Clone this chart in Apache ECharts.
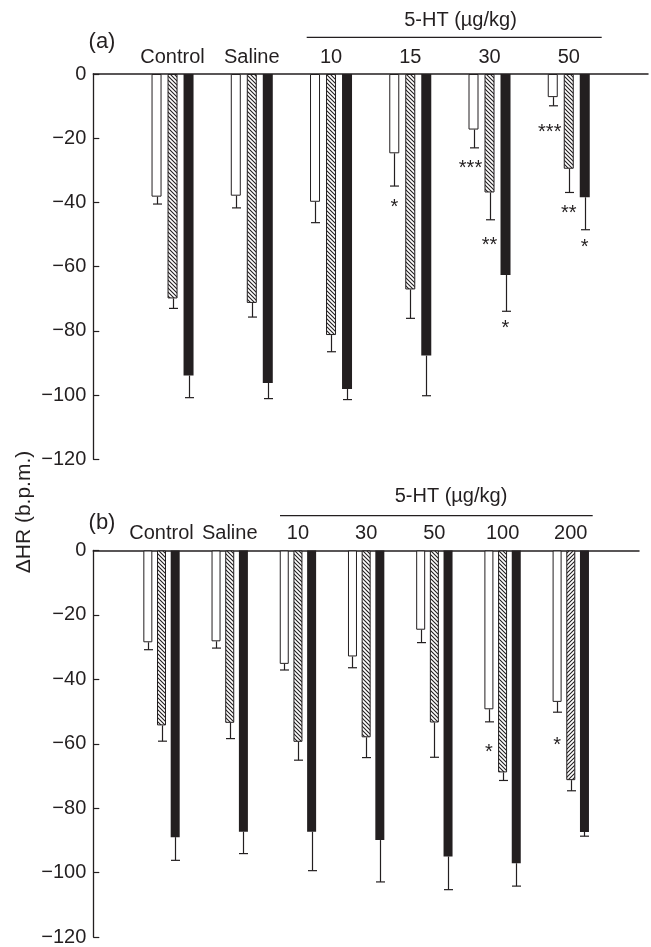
<!DOCTYPE html>
<html><head><meta charset="utf-8">
<script src="https://cdn.jsdelivr.net/npm/echarts@6/dist/echarts.min.js"></script>
<style>html,body{margin:0;padding:0;background:#fff}#c{width:651px;height:947px}</style>
</head><body><div id="c"></div>
<script>
// ---- Panel (a) data ----
const catsA = ['', 'Control', 'Saline', '10', '15', '30', '50', ''];
const whiteA = [-38.2, -37.9, -39.8, -24.7, -17.3, -7.2];
const whiteSemA = [2.3, 3.8, 6.5, 10.2, 5.7, 2.7];
const hatchA = [-69.9, -71.3, -81.3, -67.1, -36.9, -29.5];
const hatchSemA = [3.1, 4.4, 5.2, 9.0, 8.5, 7.4];
const blackA = [-93.9, -96.2, -98.1, -87.7, -62.6, -38.4];
const blackSemA = [6.9, 4.9, 3.3, 12.5, 11.3, 10.1];
// significance marks: [category, bar (0 open,1 hatched,2 filled), value position, text]
const sigA = [['15', 0, -40, '*'], ['30', 0, -28, '***'], ['30', 1, -51.8, '**'], ['30', 2, -77.7, '*'],
              ['50', 0, -16.7, '***'], ['50', 1, -42, '**'], ['50', 2, -52.5, '*']];

// ---- Panel (b) data ----
const catsB = ['', 'Control', 'Saline', '10', '30', '50', '100', '200', ''];
const whiteB = [-28.5, -28.2, -35.2, -32.9, -24.6, -49.3, -47.0];
const whiteSemB = [2.3, 2.1, 1.9, 3.5, 4.0, 3.9, 3.2];
const hatchB = [-54.3, -53.5, -59.4, -58.0, -53.4, -68.9, -71.3];
const hatchSemB = [4.9, 4.9, 5.7, 6.3, 10.8, 2.5, 3.3];
const blackB = [-89.0, -87.3, -87.3, -89.9, -95.0, -97.1, -87.4];
const blackSemB = [7.2, 6.8, 12.1, 13.0, 10.3, 7.1, 1.3];
const sigB = [['100', 0, -61.1, '*'], ['200', 0, -58.9, '*']];

const yTicks = [0, -20, -40, -60, -80, -100, -120];

const INK = '#231f20';
const FONT = '"Liberation Sans", Arial, Helvetica, sans-serif';

function hatch(dir) {
  const s = 4, c = document.createElement('canvas');
  c.width = s; c.height = s;
  const g = c.getContext('2d');
  g.fillStyle = '#fff'; g.fillRect(0, 0, s, s);
  g.strokeStyle = INK; g.lineWidth = 1.1;
  g.beginPath();
  if (dir > 0) {
    g.moveTo(-1, -1); g.lineTo(s + 1, s + 1);
    g.moveTo(-1, s - 1); g.lineTo(1, s + 1);
    g.moveTo(s - 1, -1); g.lineTo(s + 1, 1);
  } else {
    g.moveTo(-1, s + 1); g.lineTo(s + 1, -1);
    g.moveTo(-1, 1); g.lineTo(1, -1);
    g.moveTo(s - 1, s + 1); g.lineTo(s + 1, s - 1);
  }
  g.stroke();
  return c;
}
const patBack = { image: hatch(1), repeat: 'repeat' };
const patFwd = { image: hatch(-1), repeat: 'repeat' };

function barSeries(ax, vals, kind, w, gap, special) {
  const style = kind === 0 ? { color: '#fff', borderColor: INK, borderWidth: 1 }
              : kind === 1 ? { color: patBack, borderColor: INK, borderWidth: 1 }
              : { color: INK, borderColor: INK, borderWidth: 0 };
  return {
    type: 'bar', xAxisIndex: ax, yAxisIndex: ax, barWidth: w, barGap: gap,
    itemStyle: style, silent: true, animation: false,
    data: vals.map((v, i) => {
      if (special && special[i]) return { value: [i + 1, v], itemStyle: special[i] };
      return [i + 1, v];
    })
  };
}

function errSeries(ax, vals, sems, k, step) {
  return {
    type: 'custom', xAxisIndex: ax, yAxisIndex: ax, z: 5, silent: true, animation: false,
    data: vals.map((v, i) => [i + 1, v, v - sems[i]]),
    renderItem: (params, api) => {
      const p0 = api.coord([api.value(0), api.value(1)]);
      const p1 = api.coord([api.value(0), api.value(2)]);
      const x = Math.round(p0[0] + (k - 1) * step) + 0.5;
      const hw = 4.5;
      const st = { stroke: INK, lineWidth: 1.2 };
      return { type: 'group', children: [
        { type: 'line', shape: { x1: x, y1: p0[1], x2: x, y2: p1[1] }, style: st },
        { type: 'line', shape: { x1: x - hw, y1: p1[1], x2: x + hw, y2: p1[1] }, style: st }
      ]};
    }
  };
}

function sigSeries(ax, cats, sig, step) {
  return {
    type: 'custom', xAxisIndex: ax, yAxisIndex: ax, z: 6, silent: true, animation: false,
    data: sig.map(s => [cats.indexOf(s[0]), s[1], s[2], s[3]]),
    dimensions: ['x', 'k', 'y', 't'],
    renderItem: (params, api) => {
      const d = sig[params.dataIndex];
      const p = api.coord([cats.indexOf(d[0]), d[2]]);
      const x = p[0] + (d[1] - 1) * step - (d[3].length === 3 ? 3 : 0);
      return { type: 'text', x: x, y: p[1] + 5,
        style: { text: d[3], font: '20px ' + FONT, fill: INK, align: 'center', verticalAlign: 'middle' } };
    }
  };
}

const yAxisCommon = {
  type: 'value', min: -120, max: 0, interval: 20,
  axisLine: { show: true, lineStyle: { color: INK, width: 1.3 } },
  axisTick: { show: true, inside: true, length: 6, lineStyle: { color: INK, width: 1.2 } },
  axisLabel: { fontSize: 20, fontFamily: FONT, color: INK, margin: 7,
    formatter: v => v < 0 ? '\u2212' + Math.abs(v) : String(v) },
  splitLine: { show: false }
};
function xAxisOf(grid, cats) {
  return {
    type: 'category', gridIndex: grid, data: cats, position: 'top', boundaryGap: false,
    axisLine: { show: true, onZero: false, lineStyle: { color: INK, width: 1.5 } },
    axisTick: { show: false },
    axisLabel: { interval: 0, fontSize: 20, fontFamily: FONT, color: INK, margin: 7 },
    splitLine: { show: false }
  };
}

const stepA = 16, stepB = 13.7;
const specialHatchB = hatchB.map((v, i) => i === 6 ? { color: patFwd, borderColor: INK, borderWidth: 1 } : null);

const txt = (t, x, y, size, rot) => ({
  type: 'text', x: x, y: y, rotation: rot || 0, silent: true,
  style: { text: t, font: size + 'px ' + FONT, fill: INK, align: 'center', verticalAlign: 'middle' }
});
const hline = (x1, x2, y) => ({ type: 'line', silent: true,
  shape: { x1: x1, y1: y, x2: x2, y2: y }, style: { stroke: INK, lineWidth: 1.3 } });

const chart = echarts.init(document.getElementById('c'), null, { renderer: 'canvas' });
chart.setOption({
  animation: false,
  backgroundColor: '#fff',
  grid: [
    { left: 93.3, top: 74, width: 557.7, height: 385.3 },
    { left: 93.3, top: 550.5, width: 545.7, height: 387.2 }
  ],
  xAxis: [xAxisOf(0, catsA), xAxisOf(1, catsB)],
  yAxis: [Object.assign({ gridIndex: 0 }, yAxisCommon), Object.assign({ gridIndex: 1 }, yAxisCommon)],
  series: [
    barSeries(0, whiteA, 0, 10, '60%'),
    barSeries(0, hatchA, 1, 10, '60%'),
    barSeries(0, blackA, 2, 10, '60%'),
    errSeries(0, whiteA, whiteSemA, 0, stepA),
    errSeries(0, hatchA, hatchSemA, 1, stepA),
    errSeries(0, blackA, blackSemA, 2, stepA),
    sigSeries(0, catsA, sigA, stepA),
    barSeries(1, whiteB, 0, 9, '52%'),
    barSeries(1, hatchB, 1, 9, '52%', specialHatchB),
    barSeries(1, blackB, 2, 9, '52%'),
    errSeries(1, whiteB, whiteSemB, 0, stepB),
    errSeries(1, hatchB, hatchSemB, 1, stepB),
    errSeries(1, blackB, blackSemB, 2, stepB),
    sigSeries(1, catsB, sigB, stepB)
  ],
  graphic: [
    txt('(a)', 102, 42, 22),
    txt('5-HT (\u00b5g/kg)', 460.5, 20, 20),
    hline(306.7, 601.7, 37.3),
    txt('(b)', 102, 523, 22),
    txt('5-HT (\u00b5g/kg)', 451, 496, 20),
    hline(280, 592.7, 515.7),
    txt('\u0394HR (b.p.m.)', 24, 512, 21, Math.PI / 2)
  ]
});
</script>
</body></html>
